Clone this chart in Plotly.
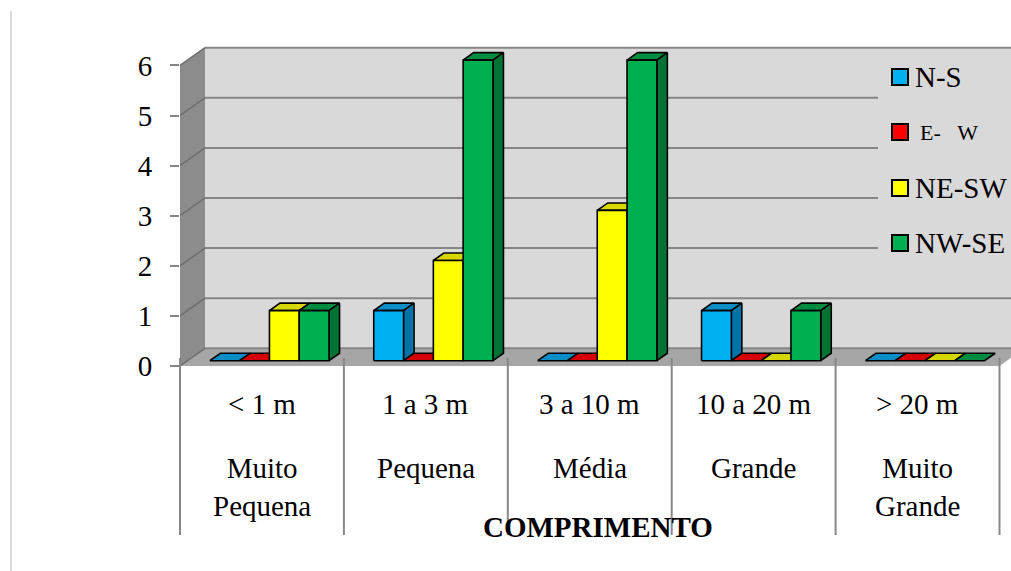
import plotly.graph_objects as go

# ---- data -------------------------------------------------------------
comprimento = ["< 1 m", "1 a 3 m", "3 a 10 m", "10 a 20 m", "> 20 m"]
classes = ["Muito<br>Pequena", "Pequena", "Média", "Grande", "Muito<br>Grande"]
series_names = ["N-S", "E-\u00a0\u00a0\u00a0W", "NE-SW", "NW-SE"]
ns = [0, 1, 0, 1, 0]
ew = [0, 0, 0, 0, 0]
ne_sw = [1, 2, 3, 0, 0]
nw_se = [1, 6, 6, 1, 0]
y_ticks = [0, 1, 2, 3, 4, 5, 6]

series_values = [ns, ew, ne_sw, nw_se]
# front, top, side colours of each series
series_colors = [
    ("#00b0f0", "#0a8cc4", "#0074a8"),
    ("#ff0000", "#d60000", "#b00000"),
    ("#ffff00", "#d6d600", "#b5b500"),
    ("#00b050", "#008c40", "#007334"),
]

# ---- geometry -----------------------------------------------------------
W, H = 1011, 571
PLOT_L = 180          # left edge of the plotting area (px)
X_PX = 163.9          # px per category
Y_PX = 50.1           # px per unit of the value axis
BASE_PX = 366         # px row of value 0 on the front plane
DX = 25 / X_PX        # depth offset of the back wall (x units)
DY = 17.7 / Y_PX      # depth offset of the back wall (y units)
F0, F1 = 0.30, 0.72   # depth fractions of bar front / back faces
BAR_W = 29.8 / X_PX
SERIF = "Liberation Serif"
FONT_SIZE = 29


def xd(px):
    return -0.5 + (px - PLOT_L) / X_PX


def yd(py):
    return (BASE_PX - py) / Y_PX


XR = [xd(PLOT_L), xd(W)]
YR = [yd(H), yd(0)]
TOP = max(y_ticks)
NCAT = len(comprimento)


def poly(xs, ys, fill, line_color=None, lw=0.0):
    return go.Scatter(
        x=list(xs) + [xs[0]], y=list(ys) + [ys[0]], mode="lines",
        fill="toself", fillcolor=fill,
        line=dict(color=line_color or fill, width=lw),
        hoverinfo="skip", showlegend=False,
    )


def segments(pairs, color, width):
    xs, ys = [], []
    for (x0, y0), (x1, y1) in pairs:
        xs += [x0, x1, None]
        ys += [y0, y1, None]
    return go.Scatter(x=xs, y=ys, mode="lines", line=dict(color=color, width=width),
                      hoverinfo="skip", showlegend=False)


fig = go.Figure()

x_left = -0.5
x_right = NCAT - 0.5

# back wall, side wall and floor
fig.add_trace(poly([x_left + DX, x_right + DX, x_right + DX, x_left + DX],
                   [DY, DY, TOP + DY, TOP + DY], "#d9d9d9"))
fig.add_trace(poly([x_left, x_left, x_left + DX, x_left + DX],
                   [0, TOP, TOP + DY, DY], "#8c8c8c"))
fig.add_trace(poly([x_left, x_right, x_right + DX, x_left + DX],
                   [0, 0, DY, DY], "#a6a6a6"))

# gridlines on the back wall and the side wall
fig.add_trace(segments([((x_left + DX, k + DY), (x_right + DX, k + DY)) for k in y_ticks],
                       "#868686", 2))
fig.add_trace(segments([((x_left, k), (x_left + DX, k + DY)) for k in y_ticks],
                       "#6e6e6e", 1.5))

# 3-D bars, drawn left to right so each front face hides the previous side face
ddx = (F1 - F0) * DX
ddy = (F1 - F0) * DY
yb = F0 * DY
nser = len(series_values)
for i in range(NCAT):
    for j, vals in enumerate(series_values):
        v = vals[i]
        front, topc, side = series_colors[j]
        xl = i - nser / 2 * BAR_W + j * BAR_W + F0 * DX
        xr = xl + BAR_W
        yt = yb + v
        fig.add_trace(poly([xl, xr, xr + ddx, xl + ddx], [yt, yt, yt + ddy, yt + ddy],
                           topc, "black", 1.6))
        if v > 0:
            fig.add_trace(poly([xr, xr + ddx, xr + ddx, xr], [yb, yb + ddy, yt + ddy, yt],
                               side, "black", 1.6))
            fig.add_trace(poly([xl, xr, xr, xl], [yb, yb, yt, yt], front, "black", 1.6))

shapes = []
span = XR[1] - XR[0]


def xpaper(x):
    return (x - XR[0]) / span


# category separators below the floor
for k in range(NCAT + 1):
    xp = xpaper(x_left + k)
    shapes.append(dict(type="line", xref="paper", yref="y", x0=xp, x1=xp,
                       y0=yd(358), y1=yd(535), line=dict(color="#888888", width=2)))

# page border on the left
shapes.append(dict(type="line", xref="paper", yref="paper",
                   x0=(11 - PLOT_L) / (W - PLOT_L), x1=(11 - PLOT_L) / (W - PLOT_L),
                   y0=0, y1=(H - 11) / H, line=dict(color="#d0d0d0", width=1.5)))

# legend panel
shapes.append(dict(type="rect", xref="x", yref="y", x0=xd(878), x1=xd(1012),
                   y0=yd(272), y1=yd(52), fillcolor="#d9d9d9", line=dict(width=0),
                   layer="above"))
legend_rows = [77, 132, 188, 243]
annotations = []
for j, name in enumerate(series_names):
    cy = legend_rows[j]
    shapes.append(dict(type="rect", xref="x", yref="y", x0=xd(892), x1=xd(908),
                       y0=yd(cy + 8), y1=yd(cy - 8), fillcolor=series_colors[j][0],
                       line=dict(color="black", width=2), layer="above"))
    size = 22 if j == 1 else FONT_SIZE
    annotations.append(dict(x=xd(913 if j != 1 else 918), y=yd(cy), xref="x", yref="y",
                            text=name, showarrow=False, xanchor="left", yanchor="middle",
                            font=dict(family=SERIF, size=size, color="black")))

# category labels
for i in range(NCAT):
    annotations.append(dict(x=i, y=yd(404), xref="x", yref="y", text=comprimento[i],
                            showarrow=False, xanchor="center", yanchor="middle",
                            font=dict(family=SERIF, size=FONT_SIZE, color="black")))
    annotations.append(dict(x=i, y=yd(450), xref="x", yref="y", text=classes[i],
                            showarrow=False, xanchor="center", yanchor="top",
                            font=dict(family=SERIF, size=FONT_SIZE, color="black")))

# axis titles
annotations.append(dict(x=xd(598), y=yd(527), xref="x", yref="y", text="<b>COMPRIMENTO</b>",
                        showarrow=False, xanchor="center", yanchor="middle",
                        font=dict(family=SERIF, size=FONT_SIZE, color="black")))
annotations.append(dict(x=xd(104), y=yd(221), xref="x", yref="y", text="<b>Nº de Fraturas</b>",
                        showarrow=False, textangle=-90, xanchor="center", yanchor="middle",
                        font=dict(family=SERIF, size=FONT_SIZE, color="black")))

fig.update_layout(
    width=W, height=H,
    margin=dict(l=PLOT_L, r=0, t=0, b=0),
    paper_bgcolor="white", plot_bgcolor="white",
    showlegend=False,
    shapes=shapes, annotations=annotations,
    xaxis=dict(range=XR, visible=False, fixedrange=True),
    yaxis=dict(range=YR, tickvals=y_ticks, ticktext=[str(t) for t in y_ticks],
               ticks="outside", ticklen=9, tickwidth=2, tickcolor="#868686",
               showgrid=False, zeroline=False, showline=False,
               ticklabelstandoff=12,
               tickfont=dict(family=SERIF, size=FONT_SIZE, color="black"),
               automargin=False, fixedrange=True),
)

fig.write_html("out.html")
